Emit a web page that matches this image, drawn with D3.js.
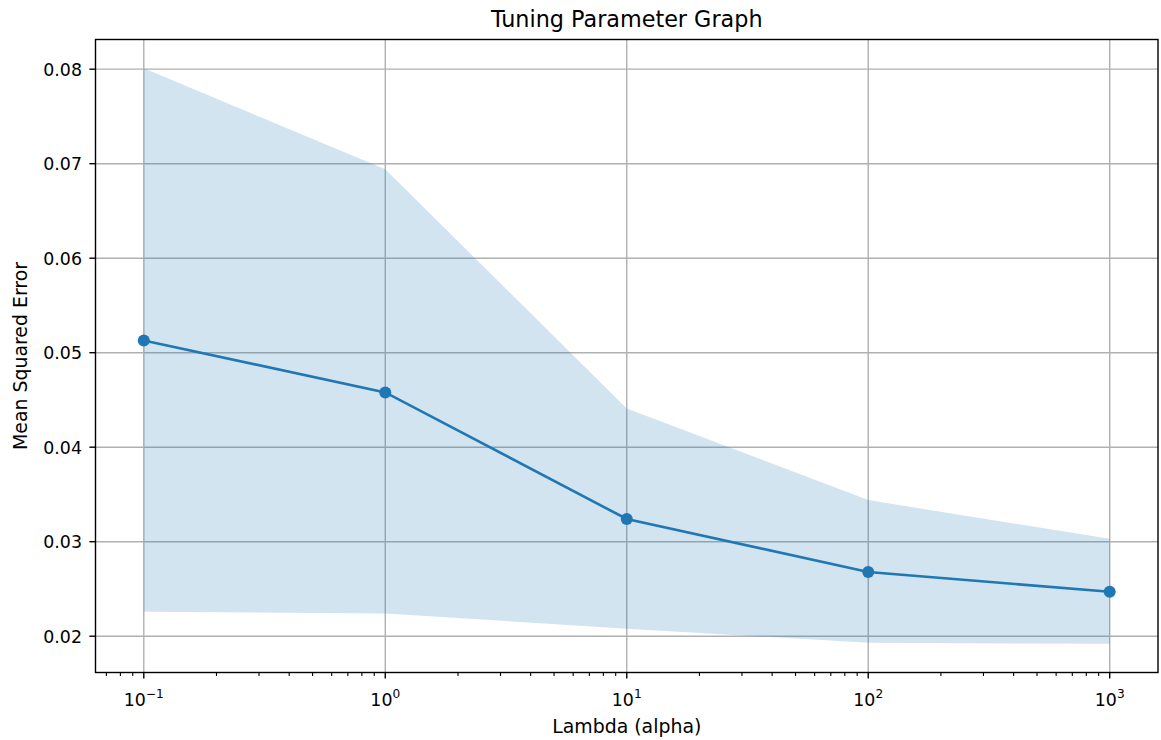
<!DOCTYPE html>
<html>
<head>
<meta charset="utf-8">
<script src="https://cdn.jsdelivr.net/npm/d3@7"></script>
<style>
  body { margin: 0; background: #fff; }
  svg { font-family: "DejaVu Sans", sans-serif; }
</style>
</head>
<body>
<script>
// data
var lambdas = [0.1, 1, 10, 100, 1000];
var meanErr = [0.0513, 0.0458, 0.0324, 0.0268, 0.0247];
var upperErr = [0.0801, 0.0694, 0.0441, 0.0344, 0.0303];
var lowerErr = [0.0226, 0.0224, 0.0208, 0.0193, 0.0192];
var yTicks = [0.02, 0.03, 0.04, 0.05, 0.06, 0.07, 0.08];
var xTicks = [0.1, 1, 10, 100, 1000];
var xTickExp = ["\u22121", "0", "1", "2", "3"];

var width = 1161,
    height = 740;
var margin = {left: 95.5, right: 3, top: 39.5, bottom: 67.5};

var svg = d3.select("body").append("svg")
    .attr("width", width)
    .attr("height", height);

var x = d3.scaleLog()
    .domain([Math.pow(10, -1.2), Math.pow(10, 3.2)])
    .range([margin.left, width - margin.right]);
var y = d3.scaleLinear()
    .domain([0.01616, 0.08314])
    .range([height - margin.bottom, margin.top]);

var x0 = margin.left, x1 = width - margin.right,
    y0 = height - margin.bottom, y1 = margin.top;

// grid
svg.append("g").selectAll("line.gx").data(xTicks).enter().append("line")
    .attr("x1", function(d) { return x(d); }).attr("x2", function(d) { return x(d); })
    .attr("y1", y0).attr("y2", y1)
    .attr("stroke", "#b0b0b0").attr("stroke-width", 1.4);
svg.append("g").selectAll("line.gy").data(yTicks).enter().append("line")
    .attr("y1", function(d) { return y(d); }).attr("y2", function(d) { return y(d); })
    .attr("x1", x0).attr("x2", x1)
    .attr("stroke", "#b0b0b0").attr("stroke-width", 1.4);

// band
var idx = d3.range(lambdas.length);
var area = d3.area()
    .x(function(i) { return x(lambdas[i]); })
    .y0(function(i) { return y(lowerErr[i]); })
    .y1(function(i) { return y(upperErr[i]); });
svg.append("path").datum(idx)
    .attr("d", area)
    .attr("fill", "#1f77b4").attr("fill-opacity", 0.2);

// mean line + markers
var line = d3.line()
    .x(function(i) { return x(lambdas[i]); })
    .y(function(i) { return y(meanErr[i]); });
svg.append("path").datum(idx)
    .attr("d", line)
    .attr("fill", "none").attr("stroke", "#1f77b4").attr("stroke-width", 2.6);
svg.append("g").selectAll("circle").data(idx).enter().append("circle")
    .attr("cx", function(i) { return x(lambdas[i]); })
    .attr("cy", function(i) { return y(meanErr[i]); })
    .attr("r", 6).attr("fill", "#1f77b4");

// spines
svg.append("rect")
    .attr("x", x0).attr("y", y1).attr("width", x1 - x0).attr("height", y0 - y1)
    .attr("fill", "none").attr("stroke", "#000").attr("stroke-width", 1.4);

// y ticks
var yg = svg.append("g");
yg.selectAll("line").data(yTicks).enter().append("line")
    .attr("x1", x0).attr("x2", x0 - 6.1)
    .attr("y1", function(d) { return y(d); }).attr("y2", function(d) { return y(d); })
    .attr("stroke", "#000").attr("stroke-width", 1.4);
yg.selectAll("text").data(yTicks).enter().append("text")
    .attr("x", x0 - 13.5).attr("y", function(d) { return y(d); })
    .attr("dy", "0.38em").attr("text-anchor", "end")
    .attr("font-size", 17.4).attr("fill", "#000")
    .text(function(d) { return d3.format(".2f")(d); });

// x major ticks
var xg = svg.append("g");
xg.selectAll("line").data(xTicks).enter().append("line")
    .attr("x1", function(d) { return x(d); }).attr("x2", function(d) { return x(d); })
    .attr("y1", y0).attr("y2", y0 + 6.1)
    .attr("stroke", "#000").attr("stroke-width", 1.4);
var xt = xg.selectAll("text").data(xTicks).enter().append("text")
    .attr("x", function(d) { return x(d); }).attr("y", 706)
    .attr("text-anchor", "middle")
    .attr("font-size", 17.4).attr("fill", "#000");
xt.append("tspan").text("10");
xt.append("tspan").attr("dy", -8).attr("font-size", 12.2)
    .text(function(d, i) { return xTickExp[i]; });

// x minor ticks
var minor = [];
for (var e = -2; e <= 3; e++) {
  for (var m = 2; m <= 9; m++) {
    var v = m * Math.pow(10, e);
    if (v >= x.domain()[0] && v <= x.domain()[1]) minor.push(v);
  }
}
xg.selectAll("line.minor").data(minor).enter().append("line")
    .attr("class", "minor")
    .attr("x1", function(d) { return x(d); }).attr("x2", function(d) { return x(d); })
    .attr("y1", y0).attr("y2", y0 + 3.5)
    .attr("stroke", "#000").attr("stroke-width", 1.1);

// labels
svg.append("text")
    .attr("x", (x0 + x1) / 2).attr("y", 27)
    .attr("text-anchor", "middle").attr("font-size", 22.3).attr("fill", "#000")
    .text("Tuning Parameter Graph");
svg.append("text")
    .attr("x", (x0 + x1) / 2).attr("y", 733)
    .attr("text-anchor", "middle").attr("font-size", 18.9).attr("fill", "#000")
    .text("Lambda (alpha)");
svg.append("text")
    .attr("transform", "translate(27," + ((y0 + y1) / 2) + ") rotate(-90)")
    .attr("text-anchor", "middle").attr("font-size", 18.9).attr("fill", "#000")
    .text("Mean Squared Error");
</script>
</body>
</html>
